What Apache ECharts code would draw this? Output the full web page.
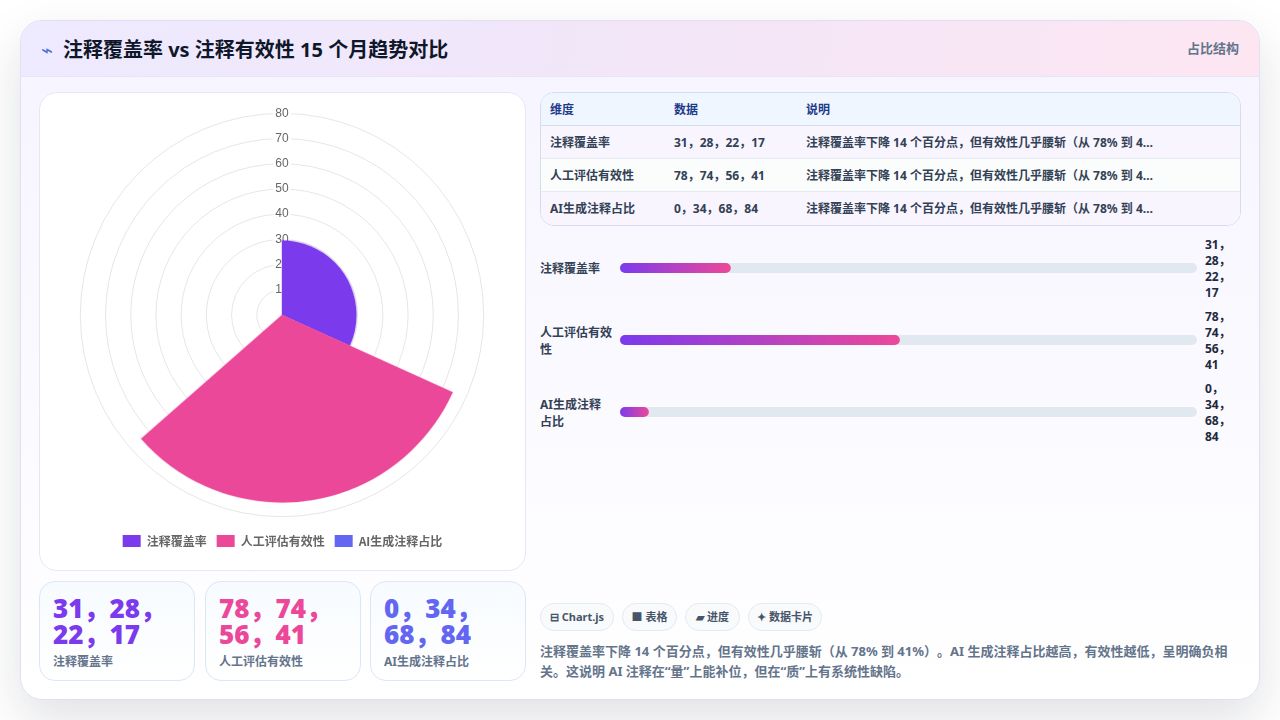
<!DOCTYPE html>
<html lang="zh"><head><meta charset="utf-8">
<script src="https://cdn.jsdelivr.net/npm/echarts@6/dist/echarts.min.js"></script>
<style>
*{box-sizing:border-box;margin:0;padding:0}
html,body{width:1280px;height:720px;overflow:hidden;background:#fff;font-family:"Noto Sans","Noto Sans CJK SC",sans-serif;font-weight:700;text-spacing-trim:space-all}
.abs{position:absolute}
#card{left:20px;top:20px;width:1240px;height:680px;border-radius:22px;border:1px solid #e2dff5;background:linear-gradient(180deg,#f6f4ff 0%,#fbfaff 60%,#fff 100%);box-shadow:0 20px 50px rgba(15,23,42,.13)}
#head{left:21px;top:21px;width:1238px;height:56px;border-radius:21px 21px 0 0;border-bottom:1px solid #e6e4f6;background:linear-gradient(100deg,#eeeaff 0%,#f2e6f8 50%,#fde6f2 100%)}
#icon{left:41px;top:36px;font-size:20px;line-height:28px;color:#4f6fe0;font-weight:400}
#title{left:63px;top:36px;font-size:20px;line-height:28px;color:#0f172a;white-space:nowrap}
#hint{left:1187px;top:39px;font-size:13px;line-height:18px;color:#64748b;white-space:nowrap}
#polarCard{left:39px;top:92px;width:487px;height:479px;border-radius:18px;border:1px solid #e5e7f5;background:#fff}
#polar{left:40px;top:93px;width:485px;height:477px}
.stat{top:581px;height:100px;border-radius:16px;border:1px solid #dbe7f7;background:linear-gradient(180deg,#f7fbff,#fff);padding:13px 13px}
.stat b{display:block;font-size:26px;line-height:26px;font-weight:900;height:52px}
.stat span{display:block;margin-top:6px;font-size:12px;line-height:18px;color:#64748b}
#tbl{left:540px;top:92px;width:701px;height:134px;border-radius:14px;border:1px solid #d5dcee;overflow:hidden;font-size:12px;color:#334155;background:#fff}
.tr{position:relative;height:33px;border-bottom:1px solid #e6eaf3;line-height:34px}
.tr:last-child{border-bottom:none}
.tr.h{background:#eff6ff;color:#1e3a8a;border-bottom:1px solid #d5dcee;height:33px}
.tr.a{background:#f8f5ff}.tr.b{background:#fafdfc}
.tr i{font-style:normal;position:absolute;top:0;white-space:nowrap}
.c1{left:9px}.c2{left:133px}.c3{left:265px;width:351px;overflow:hidden;text-overflow:ellipsis}
.rowL{left:540px;width:72px;font-size:12px;line-height:17px;color:#334155}
.rowV{left:1205px;width:30px;font-size:12px;line-height:16px;color:#1e293b}
#bars{left:620px;top:232px;width:577px;height:216px}
.tag{top:603px;height:28px;border-radius:14px;border:1px solid #e5eaf2;background:#f8fafc;font-size:11px;line-height:26px;color:#475569;text-align:center;white-space:nowrap}
#note{left:540px;top:641px;width:700px;font-size:13px;line-height:20px;color:#64748b}
</style></head><body>
<div id="card" class="abs"></div>
<div id="head" class="abs"></div>
<div id="icon" class="abs">⌁</div>
<div id="title" class="abs">注释覆盖率 vs 注释有效性 15 个月趋势对比</div>
<div id="hint" class="abs">占比结构</div>
<div id="polarCard" class="abs"></div>
<div id="polar" class="abs"></div>
<div id="stats"></div>
<div id="tbl" class="abs"></div>
<div id="rows"></div>
<div id="bars" class="abs"></div>
<div class="abs tag" style="left:540px;width:74px">⊟ Chart.js</div>
<div class="abs tag" style="left:622px;width:55px">■ 表格</div>
<div class="abs tag" style="left:685px;width:55px">▰ 进度</div>
<div class="abs tag" style="left:748px;width:74px">✦ 数据卡片</div>
<div id="note" class="abs">注释覆盖率下降 14 个百分点，但有效性几乎腰斩（从 78% 到 41%）。AI 生成注释占比越高，有效性越低，呈明确负相关。这说明 AI 注释在“量”上能补位，但在“质”上有系统性缺陷。</div>
<script>
// ---- data ----
const names = ['注释覆盖率', '人工评估有效性', 'AI生成注释占比'];
const coverage = [31, 28, 22, 17];
const effectiveness = [78, 74, 56, 41];
const aiShare = [0, 34, 68, 84];
const seriesColors = ['#7c3aed', '#ec4899', '#6366f1'];
const radialTicks = [0, 10, 20, 30, 40, 50, 60, 70, 80];
// the reference was photographed while its entrance animation was running
const polarProgress = 0.953;
const barValues = [19.2, 48.5, 5];
const noteText = '注释覆盖率下降 14 个百分点，但有效性几乎腰斩（从 78% 到 41%）。AI 生成注释占比越高，有效性越低，呈明确负相关。这说明 AI 注释在“量”上能补位，但在“质”上有系统性缺陷。';

const lists = [coverage, effectiveness, aiShare];
const joined = lists.map(l => l.join('，'));

// ---- DOM text blocks ----
const statLeft = [39, 205, 370], statW = [156, 156, 156];
document.getElementById('stats').innerHTML = names.map((n, i) =>
  `<div class="abs stat" style="left:${statLeft[i]}px;width:${statW[i]}px"><b style="color:${seriesColors[i]}">${joined[i]}</b><span>${n}</span></div>`).join('');
document.getElementById('tbl').innerHTML =
  `<div class="tr h"><i class="c1">维度</i><i class="c2">数据</i><i class="c3">说明</i></div>` +
  names.map((n, i) => `<div class="tr ${i % 2 ? 'b' : 'a'}"><i class="c1">${n}</i><i class="c2">${joined[i]}</i><i class="c3">${noteText}</i></div>`).join('');
const rowLabelTop = [260, 324, 396], rowValTop = [237, 309, 381];
document.getElementById('rows').innerHTML = names.map((n, i) =>
  `<div class="abs rowL" style="top:${rowLabelTop[i]}px">${n}</div><div class="abs rowV" style="top:${rowValTop[i]}px">${joined[i]}</div>`).join('');

// ---- polar area chart ----
const polar = echarts.init(document.getElementById('polar'), null, {renderer: 'canvas'});
const sweep = 120 * polarProgress;
function sectorItem(index) {
  return function (params, api) {
    const v = api.value(0);
    const pt = api.coord([v, 0]);
    const cs = params.coordSys;
    const r = Math.hypot(pt[0] - cs.cx, pt[1] - cs.cy);
    const rad = d => (d - 90) * Math.PI / 180;
    return {
      type: 'sector',
      shape: {cx: cs.cx, cy: cs.cy, r0: 0, r: r,
        startAngle: rad(index * sweep), endAngle: rad((index + 1) * sweep), clockwise: true},
      style: {fill: seriesColors[index], stroke: seriesColors[index] + '40', lineWidth: 1.5}
    };
  };
}
polar.setOption({
  animation: false,
  legend: {
    data: names, bottom: 18, left: 'center', icon: 'rect', itemWidth: 18, itemHeight: 12, itemGap: 10,
    selectedMode: false,
    textStyle: {color: '#666', fontSize: 12, fontWeight: 600, padding: [0, 0, 0, 1], fontFamily: '"Noto Sans CJK SC","Noto Sans",sans-serif'}
  },
  polar: {center: [242, 222], radius: 201.7},
  angleAxis: {type: 'value', min: 0, max: 360, startAngle: 90, clockwise: true,
    axisLine: {show: false}, axisTick: {show: false}, axisLabel: {show: false}, splitLine: {show: false}},
  radiusAxis: {type: 'value', min: radialTicks[0], max: radialTicks[radialTicks.length - 1], interval: 10,
    axisLine: {show: false}, axisTick: {show: false},
    splitLine: {show: true, lineStyle: {color: '#e6e6e6', width: 1}},
    axisLabel: {show: true, margin: 0, align: 'center', verticalAlign: 'middle', color: '#666', fontSize: 12,
      fontFamily: '"Liberation Sans",Arial,sans-serif', fontWeight: 400,
      backgroundColor: '#fff', padding: [2, 2],
      formatter: v => v === 0 ? '' : String(v)}},
  series: names.map((n, i) => ({
    name: n, type: 'custom', coordinateSystem: 'polar', z: 5,
    itemStyle: {color: seriesColors[i]},
    renderItem: sectorItem(i),
    data: [[lists[i][0] * polarProgress, 0]]
  }))
});

// ---- progress bars ----
const bars = echarts.init(document.getElementById('bars'), null, {renderer: 'canvas'});
bars.setOption({
  animation: false,
  grid: {left: 0, right: 0, top: 0, bottom: 0},
  xAxis: {type: 'value', min: 0, max: 100, show: false},
  yAxis: {type: 'category', data: names, inverse: true, show: false},
  series: [{
    type: 'bar', data: barValues, barWidth: 10, showBackground: true,
    backgroundStyle: {color: '#e2e8f0', borderRadius: 5},
    itemStyle: {borderRadius: 5, color: new echarts.graphic.LinearGradient(0, 0, 1, 0, [
      {offset: 0, color: seriesColors[0]}, {offset: 1, color: seriesColors[1]}])}
  }]
});
</script></body></html>
